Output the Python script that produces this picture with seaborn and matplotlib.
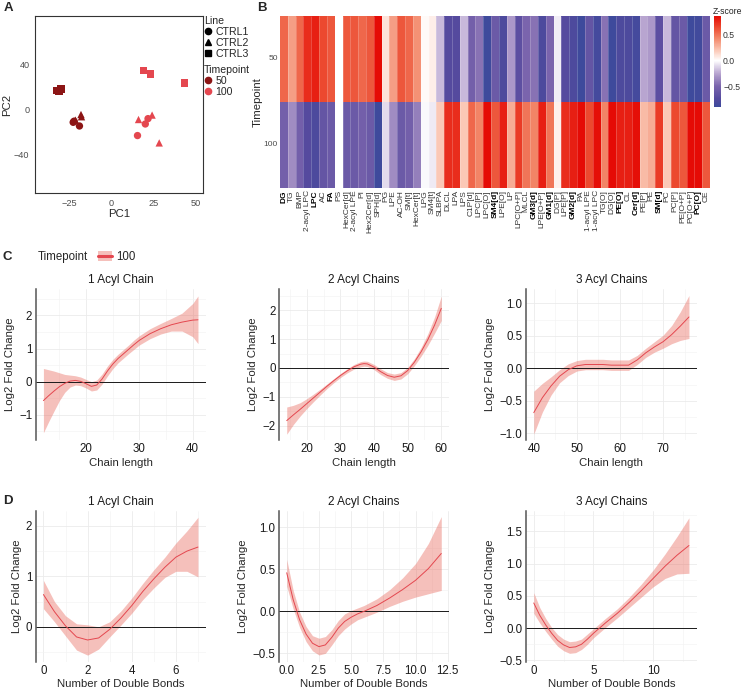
import numpy as np
import pandas as pd
import matplotlib
matplotlib.use("Agg")
import matplotlib.pyplot as plt
import seaborn as sns
from matplotlib.colors import LinearSegmentedColormap
from matplotlib.lines import Line2D
from matplotlib.patches import Patch
from matplotlib.legend_handler import HandlerTuple
from matplotlib.ticker import AutoMinorLocator

sns.set_style("white")
plt.rcParams['font.family'] = ['Liberation Sans', 'DejaVu Sans']
plt.rcParams['axes.unicode_minus'] = True

# ---------------- Panel A: PCA ----------------
pca_pc1 = [-22.0, -18.8, -22.5, -17.9, -17.6, -21.2, -32.5, -30.8, -29.6,
           15.4, 20.0, 21.6, 16.0, 24.0, 28.2, 18.9, 23.0, 43.0]
pca_pc2 = [-10.5, -14.8, -11.5, -4.5, -6.5, -9.5, 17.0, 16.5, 18.5,
           -23.4, -13.0, -8.2, -9.0, -5.0, -30.0, 35.0, 32.0, 23.7]
pca_line = ['CTRL1'] * 3 + ['CTRL2'] * 3 + ['CTRL3'] * 3 + ['CTRL1'] * 3 + ['CTRL2'] * 3 + ['CTRL3'] * 3
pca_timepoint = ['50'] * 9 + ['100'] * 9
line_levels = ['CTRL1', 'CTRL2', 'CTRL3']
timepoint_levels = ['50', '100']

# ---------------- Panel B: heatmap ----------------
lipid_classes = ['DG', 'TG', 'BMP', '2-acyl LPC', 'LPC', 'AC', 'FA', 'PS', 'HexCer[d]', '2-acyl LPE',
                 'PI', 'Hex2Cer[d]', 'SPH[d]', 'PG', 'LPE', 'AC-OH', 'SM[t]', 'HexCer[t]', 'LPG', 'SM4[t]',
                 'SLBPA', 'DLCL', 'LPA', 'LPS', 'C1P[d]', 'LPC[P]', 'LPC[O]', 'SM4[d]', 'LPE[O]', 'LP',
                 'LPC[O+P]', 'MLCL', 'GM3[d]', 'LPE[O+P]', 'GM1[d]', 'DG[P]', 'LPE[P]', 'GM2[d]', 'PA',
                 '1-acyl LPE', '1-acyl LPC', 'TG[O]', 'DG[O]', 'PE[O]', 'CL', 'Cer[d]', 'PE[P]', 'PE',
                 'SM[d]', 'PC', 'PC[P]', 'PE[O+P]', 'PC[O+P]', 'PC[O]', 'CE']
bold_classes = ['DG', 'LPC', 'FA', 'SM4[d]', 'GM3[d]', 'GM1[d]', 'GM2[d]', 'PE[O]', 'Cer[d]', 'SM[d]', 'PC[O]']
heat_timepoints = ['50', '100']
z_t50 = [0.55, 0.35, 0.55, 0.75, 0.8, 0.65, 0.6, np.nan,
         0.6, 0.6, 0.55, 0.6, 0.9, 0.1, 0.35, 0.6, 0.55, 0.4, 0.02, 0.06,
         -0.2, -0.75, -0.75, -0.2, -0.55, -0.45, -0.9, -0.6,
         -0.8, -0.3, -0.7, -0.5, -0.45, -0.8, -0.5, -0.05, -0.75, -0.8, -0.9, -0.65, -0.85,
         -0.45, -0.9, -0.8, -0.8, -0.85, -0.25, -0.3, -0.7, -0.2, -0.65, -0.6, -0.9, -0.88, -0.6]
z_t100 = [-0.55, -0.35, -0.55, -0.75, -0.8, -0.65, -0.6, np.nan,
          -0.6, -0.6, -0.55, -0.6, -0.9, -0.1, -0.35, -0.6, -0.55, -0.4, -0.02, -0.06,
          0.2, 0.75, 0.75, 0.2, 0.55, 0.45, 0.9, 0.6,
          0.8, 0.3, 0.7, 0.5, 0.45, 0.8, 0.5, 0.05, 0.75, 0.8, 0.9, 0.65, 0.85,
          0.45, 0.9, 0.8, 0.8, 0.85, 0.25, 0.3, 0.7, 0.2, 0.65, 0.6, 0.9, 0.88, 0.6]

# ---------------- Panel C: chain length ----------------
c1_len = [12, 13, 14, 15, 16, 17, 18, 19, 20, 21, 22, 23, 24, 25, 26, 27, 28, 29, 30, 32, 34, 36, 38, 40, 41]
c1_fit = [-0.57, -0.42, -0.28, -0.15, -0.05, 0.02, 0.04, 0.01, -0.06, -0.14, -0.1, 0.08, 0.32, 0.53, 0.7,
          0.84, 0.98, 1.12, 1.25, 1.45, 1.6, 1.72, 1.8, 1.86, 1.87]
c1_se = [0.97, 0.78, 0.6, 0.42, 0.27, 0.18, 0.14, 0.13, 0.13, 0.14, 0.15, 0.15, 0.15, 0.14, 0.13,
         0.13, 0.13, 0.14, 0.14, 0.15, 0.16, 0.19, 0.27, 0.5, 0.72]

c2_len = [14, 16, 18, 20, 22, 24, 26, 28, 30, 32, 34, 36, 37, 38, 40, 42, 44, 46, 48, 50, 52, 54, 56, 58, 60]
c2_fit = [-1.82, -1.62, -1.43, -1.23, -1.03, -0.83, -0.63, -0.44, -0.26, -0.1, 0.04, 0.13, 0.15, 0.14, 0.03,
          -0.13, -0.26, -0.32, -0.27, -0.09, 0.2, 0.56, 0.98, 1.48, 2.06]
c2_se = [0.47, 0.33, 0.23, 0.17, 0.13, 0.1, 0.08, 0.07, 0.07, 0.07, 0.08, 0.09, 0.09, 0.09, 0.09,
         0.1, 0.1, 0.11, 0.11, 0.11, 0.12, 0.15, 0.2, 0.28, 0.42]

c3_len = [40, 42, 44, 46, 48, 50, 52, 54, 56, 58, 60, 62, 64, 66, 68, 70, 72, 74, 76]
c3_fit = [-0.68, -0.45, -0.27, -0.12, -0.02, 0.04, 0.06, 0.06, 0.06, 0.05, 0.05, 0.05, 0.13, 0.24, 0.33,
          0.41, 0.52, 0.65, 0.79]
c3_se = [0.33, 0.22, 0.14, 0.1, 0.09, 0.08, 0.08, 0.08, 0.08, 0.08, 0.08, 0.08, 0.07, 0.07, 0.08,
         0.1, 0.14, 0.22, 0.33]

# ---------------- Panel D: double bonds ----------------
d1_db = [0, 0.5, 1, 1.5, 2, 2.5, 3, 3.5, 4, 4.5, 5, 5.5, 6, 6.5, 7]
d1_fit = [0.64, 0.3, 0.02, -0.2, -0.26, -0.22, -0.05, 0.17, 0.42, 0.7, 0.95, 1.18, 1.38, 1.5, 1.58]
d1_se = [0.28, 0.2, 0.2, 0.26, 0.3, 0.22, 0.15, 0.14, 0.15, 0.16, 0.18, 0.2, 0.28, 0.4, 0.59]

d2_db = [0, 0.5, 1, 1.5, 2, 2.5, 3, 3.5, 4, 4.5, 5, 5.5, 6, 7, 8, 9, 10, 11, 12]
d2_fit = [0.46, 0.14, -0.1, -0.27, -0.38, -0.42, -0.4, -0.31, -0.2, -0.12, -0.07, -0.03, 0.0, 0.07, 0.16,
          0.26, 0.37, 0.51, 0.69]
d2_se = [0.16, 0.11, 0.09, 0.09, 0.09, 0.1, 0.1, 0.09, 0.09, 0.09, 0.08, 0.07, 0.07, 0.08, 0.1,
         0.14, 0.2, 0.3, 0.44]

d3_db = [0, 0.5, 1, 1.5, 2, 2.5, 3, 3.5, 4, 4.5, 5, 6, 7, 8, 9, 10, 11, 12, 13]
d3_fit = [0.39, 0.2, 0.05, -0.08, -0.19, -0.26, -0.3, -0.29, -0.25, -0.17, -0.08, 0.08, 0.23, 0.4, 0.58,
          0.77, 0.96, 1.13, 1.28]
d3_se = [0.16, 0.12, 0.1, 0.09, 0.09, 0.09, 0.09, 0.09, 0.08, 0.08, 0.07, 0.07, 0.07, 0.08, 0.1,
         0.13, 0.19, 0.29, 0.43]

# ---------------- styles ----------------
W, H = 747, 691
col50, col100 = '#8C1515', '#E4474F'
line_col = '#E4474F'
ribbon_col = '#E9695E'


def fx(px):
    return px / W


def fy(py):
    return 1 - py / H


def rect(l, t, r, b):
    return [fx(l), fy(b), (r - l) / W, (b - t) / H]


fig = plt.figure(figsize=(W / 100, H / 100), dpi=100)

# ---------- Panel A ----------
axA = fig.add_axes(rect(35, 16, 203, 193))
dfA = pd.DataFrame({'PC1': pca_pc1, 'PC2': pca_pc2, 'Line': pca_line, 'Timepoint': pca_timepoint})
sns.scatterplot(data=dfA, x='PC1', y='PC2', hue='Timepoint', hue_order=timepoint_levels,
                palette={'50': col50, '100': col100}, style='Line', style_order=line_levels,
                markers={'CTRL1': 'o', 'CTRL2': '^', 'CTRL3': 's'}, s=28, linewidth=0,
                legend=False, ax=axA)
axA.set_xlim(-45, 54)
axA.set_ylim(-75, 84)
axA.set_xticks([-25, 0, 25, 50])
axA.set_yticks([-40, 0, 40])
axA.set_xticklabels(['\u221225', '0', '25', '50'])
axA.set_yticklabels(['\u221240', '0', '40'])
axA.tick_params(labelsize=6.6, colors='#333333', labelcolor='#4D4D4D', length=2.5, width=0.6, pad=1.5)
for s in axA.spines.values():
    s.set_color('#333333')
    s.set_linewidth(0.8)
axA.set_xlabel('PC1', fontsize=8.2, labelpad=1)
axA.set_ylabel('PC2', fontsize=8.2, labelpad=1)

h_line = [Line2D([], [], marker=m, color='black', ls='', markersize=4.5) for m in ['o', '^', 's']]
leg1 = axA.legend(handles=h_line, labels=line_levels, title='Line', loc='upper left',
                  bbox_to_anchor=(fx(204), fy(16)), bbox_transform=fig.transFigure, frameon=False,
                  fontsize=7.6, title_fontsize=7.6, handletextpad=0.25, handlelength=0.8,
                  labelspacing=0.1, borderpad=0, borderaxespad=0)
leg1._legend_box.align = 'left'
axA.add_artist(leg1)
h_tp = [Line2D([], [], marker='o', color=c, ls='', markersize=4.5) for c in [col50, col100]]
leg2 = axA.legend(handles=h_tp, labels=timepoint_levels, title='Timepoint', loc='upper left',
                  bbox_to_anchor=(fx(204), fy(65)), bbox_transform=fig.transFigure, frameon=False,
                  fontsize=7.6, title_fontsize=7.6, handletextpad=0.25, handlelength=0.8,
                  labelspacing=0.1, borderpad=0, borderaxespad=0)
leg2._legend_box.align = 'left'

# ---------- Panel B ----------
axB = fig.add_axes(rect(280, 16, 710, 188))
cax = fig.add_axes(rect(714, 16, 721, 107))
hm = pd.DataFrame([z_t50, z_t100], index=pd.Index(heat_timepoints, name='Timepoint'), columns=lipid_classes)
vmin, vmax = -0.91, 0.87
nodes = [(-0.91, '#3D4A9C'), (-0.75, '#554A9E'), (-0.5, '#7B65AD'), (-0.25, '#B9A6D1'), (0.0, '#FFFFFF'),
         (0.2, '#FBC8B6'), (0.45, '#F28466'), (0.65, '#EC4A30'), (0.87, '#E50B05')]
cmap = LinearSegmentedColormap.from_list('zs', [((v - vmin) / (vmax - vmin), c) for v, c in nodes])
sns.heatmap(hm, ax=axB, cmap=cmap, vmin=vmin, vmax=vmax, cbar_ax=cax, linewidths=0,
            xticklabels=True, yticklabels=True)
axB.vlines(np.arange(1, len(lipid_classes)), 0, len(heat_timepoints), colors=(1, 1, 1, 0.35), linewidth=0.4)
axB.set_xlabel('')
axB.set_ylabel('Timepoint', fontsize=8.2, labelpad=0.5)
axB.tick_params(axis='x', length=0, pad=1.5)
axB.tick_params(axis='y', length=0, pad=1.5)
axB.set_xticklabels(lipid_classes, rotation=90, fontsize=6.0, color='#333333')
for t in axB.get_xticklabels():
    if t.get_text() in bold_classes:
        t.set_fontweight('bold')
        t.set_color('black')
axB.set_yticklabels(heat_timepoints, rotation=0, fontsize=6.0, color='#4D4D4D')
cb = axB.collections[0].colorbar
cb.outline.set_visible(False)
cb.set_ticks([-0.5, 0.0, 0.5])
cb.set_ticklabels(['\u22120.5', '0.0', '0.5'])
cax.tick_params(labelsize=6.2, length=2, color='white', width=0.6, pad=1.5, direction='in', labelcolor='#333333')
fig.text(fx(713), fy(11), 'Z-score', fontsize=6.2, va='center', ha='left', color='#222222')

# ---------- Panels C and D ----------
def smooth_panel(box, xs, fit, se, title, xlabel, xticks, yticks, xlim, ylim, yfmt):
    ax = fig.add_axes(rect(*box))
    lo = [f - s for f, s in zip(fit, se)]
    hi = [f + s for f, s in zip(fit, se)]
    ax.fill_between(xs, lo, hi, color=ribbon_col, alpha=0.42, linewidth=0, zorder=2)
    sns.lineplot(x=xs, y=fit, ax=ax, color=line_col, linewidth=0.7, sort=False, estimator=None, zorder=3)
    ax.axhline(0, color='#1A1A1A', lw=0.7, zorder=2.5)
    ax.set_xlim(*xlim)
    ax.set_ylim(*ylim)
    ax.set_xticks(xticks)
    ax.set_yticks(yticks)
    ax.set_yticklabels([yfmt(v).replace('-', '\u2212') for v in yticks])
    ax.xaxis.set_minor_locator(AutoMinorLocator(2))
    ax.yaxis.set_minor_locator(AutoMinorLocator(2))
    ax.grid(True, which='major', color='#EBEBEB', lw=0.6, zorder=0)
    ax.grid(True, which='minor', color='#F2F2F2', lw=0.4, zorder=0)
    ax.set_axisbelow(True)
    for k in ['top', 'right', 'bottom']:
        ax.spines[k].set_visible(False)
    ax.spines['left'].set_color('#555555')
    ax.spines['left'].set_linewidth(1.1)
    ax.tick_params(which='both', length=0, labelsize=8.3, labelcolor='#1A1A1A', pad=2.5)
    ax.set_title(title, fontsize=8.5, pad=4, color='#1A1A1A')
    ax.set_xlabel(xlabel, fontsize=8.2, labelpad=1.5)
    ax.set_ylabel('Log2 Fold Change', fontsize=8.2, labelpad=3)
    return ax


fint = lambda v: f'{v:g}'
f1 = lambda v: f'{v:.1f}'

smooth_panel((35.7, 289, 205.7, 440), c1_len, c1_fit, c1_se, '1 Acyl Chain', 'Chain length',
             [20, 30, 40], [-1, 0, 1, 2], (10.55, 42.45), (-1.76, 2.8), fint)
smooth_panel((279, 289, 449, 440), c2_len, c2_fit, c2_se, '2 Acyl Chains', 'Chain length',
             [20, 30, 40, 50, 60], [-2, -1, 0, 1, 2], (11.7, 62.3), (-2.49, 2.73), fint)
smooth_panel((526, 289, 696.7, 440), c3_len, c3_fit, c3_se, '3 Acyl Chains', 'Chain length',
             [40, 50, 60, 70], [-1.0, -0.5, 0.0, 0.5, 1.0], (38.2, 77.8), (-1.1, 1.22), f1)

smooth_panel((35.7, 510.7, 205.7, 661.7), d1_db, d1_fit, d1_se, '1 Acyl Chain', 'Number of Double Bonds',
             [0, 2, 4, 6], [0, 1, 2], (-0.35, 7.35), (-0.69, 2.3), fint)
ax_d2 = smooth_panel((279, 510.7, 449, 661.7), d2_db, d2_fit, d2_se, '2 Acyl Chains', 'Number of Double Bonds',
                     [0, 2.5, 5, 7.5, 10, 12.5], [-0.5, 0.0, 0.5, 1.0], (-0.6, 12.6), (-0.6, 1.2), f1)
ax_d2.set_xticklabels(['0.0', '2.5', '5.0', '7.5', '10.0', '12.5'])
smooth_panel((526, 510.7, 696.7, 661.7), d3_db, d3_fit, d3_se, '3 Acyl Chains', 'Number of Double Bonds',
             [0, 5, 10], [-0.5, 0.0, 0.5, 1.0, 1.5], (-0.65, 13.65), (-0.52, 1.82), f1)

# legend for panel C
fig.text(fx(38), fy(257), 'Timepoint', fontsize=8.3, va='center', ha='left')
fig.legend(handles=[(Patch(facecolor=ribbon_col, alpha=0.42, linewidth=0),
                     Line2D([], [], color=line_col, lw=2.2))],
           labels=['100'], handler_map={tuple: HandlerTuple(ndivide=1)},
           loc='center left', bbox_to_anchor=(fx(98), fy(257)), frameon=False, fontsize=8.3,
           handlelength=1.2, handleheight=1.0, handletextpad=0.4, borderpad=0, borderaxespad=0)

# panel letters
for letter, x, y in [('A', 4, 8), ('B', 257, 8), ('C', 3, 257), ('D', 3, 501)]:
    fig.text(fx(x), fy(y), letter, fontsize=9.5, fontweight='bold', va='center', ha='left')

fig.savefig('out.png', dpi=100)
